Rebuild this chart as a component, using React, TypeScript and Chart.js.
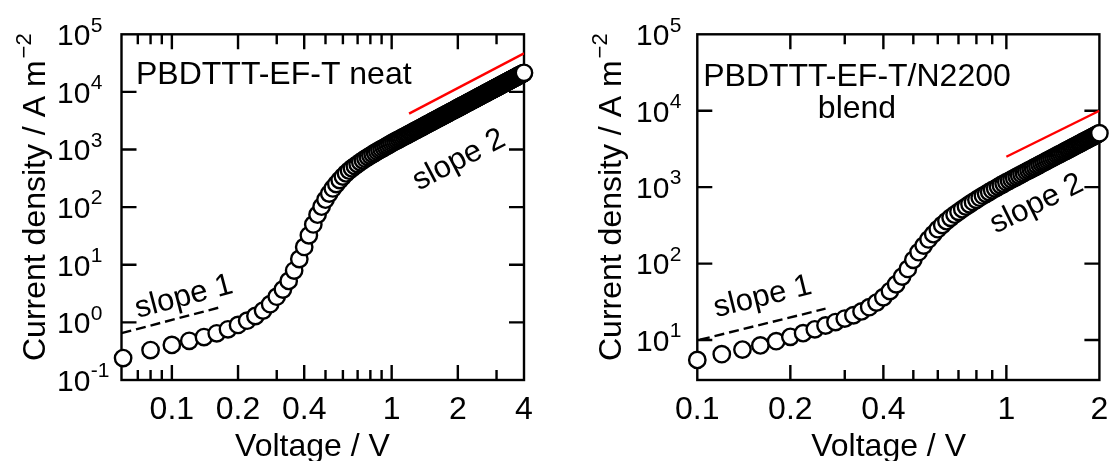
import { useEffect, useRef } from 'react';
import { Chart, registerables } from 'chart.js';

Chart.register(...registerables);

const FONT = '"Liberation Sans", Arial, Helvetica, sans-serif';

// ---------- PBDTTT-EF-T neat ----------
const neatVoltage = [
  0.06, 0.08, 0.10, 0.12, 0.14, 0.16, 0.18, 0.20, 0.22, 0.24, 0.26, 0.28, 0.30, 0.32, 0.34, 0.36,
  0.38, 0.40, 0.42, 0.44, 0.46, 0.48, 0.50, 0.52, 0.54, 0.56, 0.58, 0.60, 0.62, 0.64, 0.66, 0.68,
  0.70, 0.72, 0.74, 0.76, 0.78, 0.80, 0.82, 0.84, 0.86, 0.88, 0.90, 0.92, 0.94, 0.96, 0.98, 1.00,
  1.02, 1.04, 1.06, 1.08, 1.10, 1.12, 1.14, 1.16, 1.18, 1.20, 1.22, 1.24, 1.26, 1.28, 1.30, 1.32,
  1.34, 1.36, 1.38, 1.40, 1.42, 1.44, 1.46, 1.48, 1.50, 1.52, 1.54, 1.56, 1.58, 1.60, 1.62, 1.64,
  1.66, 1.68, 1.70, 1.72, 1.74, 1.76, 1.78, 1.80, 1.82, 1.84, 1.86, 1.88, 1.90, 1.92, 1.94, 1.96,
  1.98, 2.00, 2.02, 2.04, 2.06, 2.08, 2.10, 2.12, 2.14, 2.16, 2.18, 2.20, 2.22, 2.24, 2.26, 2.28,
  2.30, 2.32, 2.34, 2.36, 2.38, 2.40, 2.42, 2.44, 2.46, 2.48, 2.50, 2.52, 2.54, 2.56, 2.58, 2.60,
  2.62, 2.64, 2.66, 2.68, 2.70, 2.72, 2.74, 2.76, 2.78, 2.80, 2.82, 2.84, 2.86, 2.88, 2.90, 2.92,
  2.94, 2.96, 2.98, 3.00, 3.02, 3.04, 3.06, 3.08, 3.10, 3.12, 3.14, 3.16, 3.18, 3.20, 3.22, 3.24,
  3.26, 3.28, 3.30, 3.32, 3.34, 3.36, 3.38, 3.40, 3.42, 3.44, 3.46, 3.48, 3.50, 3.52, 3.54, 3.56,
  3.58, 3.60, 3.62, 3.64, 3.66, 3.68, 3.70, 3.72, 3.74, 3.76, 3.78, 3.80, 3.82, 3.84, 3.86, 3.88,
  3.90, 3.92, 3.94, 3.96, 3.98, 4.00,
];
const neatCurrent = [
  0.240, 0.331, 0.407, 0.479, 0.556, 0.646, 0.759, 0.902, 1.07, 1.29, 1.60, 2.07, 2.79, 3.72, 5.25, 7.94,
  12.6, 20.4, 32.4, 50.1, 74.1, 102, 135, 172, 211, 251, 295, 339, 385, 430, 473, 516,
  560, 604, 649, 693, 740, 785, 832, 879, 927, 975, 1023, 1072, 1122, 1175, 1230, 1288,
  1340, 1395, 1450, 1506, 1563, 1621, 1680, 1741, 1802, 1865, 1929, 1993, 2059, 2126, 2194, 2263,
  2333, 2404, 2477, 2550, 2624, 2700, 2777, 2854, 2933, 3013, 3094, 3176, 3259, 3344, 3429, 3516,
  3603, 3692, 3782, 3873, 3964, 4058, 4152, 4247, 4343, 4441, 4539, 4639, 4739, 4841, 4944, 5048,
  5153, 5259, 5366, 5475, 5584, 5695, 5807, 5919, 6033, 6148, 6264, 6382, 6500, 6619, 6740, 6861,
  6984, 7108, 7232, 7359, 7485, 7614, 7743, 7874, 8005, 8137, 8271, 8406, 8542, 8679, 8817, 8957,
  9097, 9238, 9380, 9525, 9669, 9815, 9962, 10110, 10260, 10410, 10560, 10710, 10870, 11020, 11180, 11340,
  11490, 11650, 11810, 11970, 12140, 12300, 12470, 12630, 12800, 12970, 13140, 13310, 13480, 13650, 13820, 14000,
  14170, 14350, 14530, 14710, 14890, 15070, 15250, 15440, 15620, 15810, 15990, 16180, 16370, 16560, 16750, 16950,
  17140, 17330, 17530, 17730, 17920, 18120, 18330, 18530, 18730, 18930, 19140, 19340, 19550, 19760, 19970, 20180,
  20390, 20600, 20820, 21030, 21250, 21470,
];
const neatSlope1Voltage = [0.059, 0.165];
const neatSlope1Current = [0.65, 1.82];
const neatSlope2Voltage = [1.2, 4.0];
const neatSlope2Current = [4200, 46700];
const neatXMajorTicks = [0.1, 0.2, 0.4, 1, 2, 4];
const neatXTickLabels = ['0.1', '0.2', '0.4', '1', '2', '4'];
const neatXMinorTicks = [0.07, 0.08, 0.09, 0.3, 0.5, 0.6, 0.7, 0.8, 0.9, 3];
const neatYExponents = [-1, 0, 1, 2, 3, 4, 5];
const neatYExponentLabels = ['-1', '0', '1', '2', '3', '4', '5'];

// ---------- PBDTTT-EF-T/N2200 blend ----------
const blendVoltage = [
  0.10, 0.12, 0.14, 0.16, 0.18, 0.20, 0.22, 0.24, 0.26, 0.28, 0.30, 0.32, 0.34, 0.36, 0.38, 0.40,
  0.42, 0.44, 0.46, 0.48, 0.50, 0.52, 0.54, 0.56, 0.58, 0.60, 0.62, 0.64, 0.66, 0.68, 0.70, 0.72,
  0.74, 0.76, 0.78, 0.80, 0.82, 0.84, 0.86, 0.88, 0.90, 0.92, 0.94, 0.96, 0.98, 1.00,
  1.02, 1.04, 1.06, 1.08, 1.10, 1.12, 1.14, 1.16, 1.18, 1.20, 1.22, 1.24, 1.26, 1.28, 1.30, 1.32,
  1.34, 1.36, 1.38, 1.40, 1.42, 1.44, 1.46, 1.48, 1.50, 1.52, 1.54, 1.56, 1.58, 1.60, 1.62, 1.64,
  1.66, 1.68, 1.70, 1.72, 1.74, 1.76, 1.78, 1.80, 1.82, 1.84, 1.86, 1.88, 1.90, 1.92, 1.94, 1.96,
  1.98, 2.00,
];
const blendCurrent = [
  5.50, 6.53, 7.50, 8.51, 9.66, 11.0, 12.3, 13.8, 15.5, 17.2, 19.1, 21.1, 23.7, 26.9, 30.9, 36.3,
  43.7, 53.7, 67.6, 85.1, 112, 141, 172, 207, 243, 282, 320, 359, 398, 437, 476, 516,
  557, 598, 641, 684, 728, 773, 818, 865, 912, 959, 1009, 1059, 1109, 1161,
  1211, 1262, 1314, 1368, 1422, 1478, 1535, 1593, 1652, 1712, 1773, 1836, 1899, 1964, 2030, 2097,
  2166, 2235, 2306, 2377, 2450, 2524, 2600, 2676, 2754, 2832, 2912, 2994, 3076, 3159, 3244, 3330,
  3417, 3505, 3595, 3686, 3778, 3871, 3965, 4060, 4157, 4255, 4354, 4454, 4556, 4659, 4763, 4868,
  4974, 5082,
];
const blendSlope1Voltage = [0.102, 0.26];
const blendSlope1Current = [10.1, 25.7];
const blendSlope2Voltage = [1.0, 2.0];
const blendSlope2Current = [2500, 10000];
const blendXMajorTicks = [0.1, 0.2, 0.4, 1, 2];
const blendXTickLabels = ['0.1', '0.2', '0.4', '1', '2'];
const blendXMinorTicks = [0.3, 0.5, 0.6, 0.7, 0.8, 0.9];
const blendYExponents = [1, 2, 3, 4, 5];
const blendYExponentLabels = ['1', '2', '3', '4', '5'];

const toPoints = (xs: number[], ys: number[]) => xs.map((x, i) => ({ x, y: ys[i] }));

type Panel = {
  xMin: number; xMax: number; yMin: number; yMax: number;
  yWidth: number; padRight: number; padTop: number; xHeight: number;
  voltage: number[]; current: number[];
  s1v: number[]; s1j: number[]; s2v: number[]; s2j: number[];
  xMajor: number[]; xLabels: string[]; xMinor: number[];
  yExp: number[]; yExpLabels: string[];
  yLabelX: number; yTitleX: number; yTitleStartY: number;
  xTitleX: number;
  title: string[]; titleX: number; titleAlign: CanvasTextAlign; titleBaselines: number[];
  slope1: { x: number; y: number; a: number };
  slope2: { x: number; y: number; a: number };
};

const neatPanel: Panel = {
  xMin: 0.059, xMax: 4, yMin: 0.1, yMax: 1e5,
  yWidth: 121.5, padRight: 31, padTop: 34.3, xHeight: 81,
  voltage: neatVoltage, current: neatCurrent,
  s1v: neatSlope1Voltage, s1j: neatSlope1Current, s2v: neatSlope2Voltage, s2j: neatSlope2Current,
  xMajor: neatXMajorTicks, xLabels: neatXTickLabels, xMinor: neatXMinorTicks,
  yExp: neatYExponents, yExpLabels: neatYExponentLabels,
  yLabelX: 57, yTitleX: 45, yTitleStartY: 361,
  xTitleX: 312.5,
  title: ['PBDTTT-EF-T neat'], titleX: 136, titleAlign: 'left', titleBaselines: [84],
  slope1: { x: 184, y: 297, a: -14.7 },
  slope2: { x: 459, y: 160, a: -27.6 },
};

const blendPanel: Panel = {
  xMin: 0.1, xMax: 2, yMin: 3, yMax: 1e5,
  yWidth: 142.3, padRight: 10, padTop: 34.3, xHeight: 81,
  voltage: blendVoltage, current: blendCurrent,
  s1v: blendSlope1Voltage, s1j: blendSlope1Current, s2v: blendSlope2Voltage, s2j: blendSlope2Current,
  xMajor: blendXMajorTicks, xLabels: blendXTickLabels, xMinor: blendXMinorTicks,
  yExp: blendYExponents, yExpLabels: blendYExponentLabels,
  yLabelX: 81, yTitleX: 65.8, yTitleStartY: 361,
  xTitleX: 333.6,
  title: ['PBDTTT-EF-T/N2200', 'blend'], titleX: 302, titleAlign: 'center', titleBaselines: [86, 118],
  slope1: { x: 207.7, y: 297, a: -13.9 },
  slope2: { x: 481.7, y: 204, a: -26.3 },
};

function decorPlugin(p: Panel) {
  return {
    id: 'decor',
    beforeDatasetsDraw(chart: any) {
      const { ctx, chartArea: a, scales } = chart;
      const xs = scales.x;
      const ys = scales.y;
      ctx.save();
      ctx.strokeStyle = '#000';
      ctx.lineWidth = 2.4;
      ctx.lineCap = 'butt';
      const major = 15;
      const minor = 10;
      const tickX = (v: number, len: number) => {
        const px = xs.getPixelForValue(v);
        if (px <= a.left + 1 || px >= a.right - 1) return;
        ctx.beginPath();
        ctx.moveTo(px, a.bottom); ctx.lineTo(px, a.bottom - len);
        ctx.moveTo(px, a.top); ctx.lineTo(px, a.top + len);
        ctx.stroke();
      };
      p.xMajor.forEach((v) => tickX(v, major));
      p.xMinor.forEach((v) => tickX(v, minor));
      p.yExp.forEach((e) => {
        const py = ys.getPixelForValue(Math.pow(10, e));
        if (py <= a.top + 1 || py >= a.bottom - 1) return;
        ctx.beginPath();
        ctx.moveTo(a.left, py); ctx.lineTo(a.left + major, py);
        ctx.moveTo(a.right, py); ctx.lineTo(a.right - major, py);
        ctx.stroke();
      });
      ctx.strokeRect(a.left, a.top, a.right - a.left, a.bottom - a.top);
      ctx.restore();
    },
    afterDraw(chart: any) {
      const { ctx, scales } = chart;
      const xs = scales.x;
      const ys = scales.y;
      ctx.save();
      ctx.fillStyle = '#000';
      // y tick labels 10^n
      ctx.textBaseline = 'alphabetic';
      p.yExp.forEach((e, i) => {
        const py = ys.getPixelForValue(Math.pow(10, e));
        const base = py + 10.8;
        ctx.font = `30px ${FONT}`;
        ctx.textAlign = 'left';
        ctx.fillText('10', p.yLabelX, base);
        const w = ctx.measureText('10').width;
        ctx.font = `21px ${FONT}`;
        ctx.fillText(p.yExpLabels[i], p.yLabelX + w + 0.5, base - 13.5);
      });
      // x tick labels
      ctx.font = `32px ${FONT}`;
      ctx.textAlign = 'center';
      p.xMajor.forEach((v, i) => {
        ctx.fillText(p.xLabels[i], xs.getPixelForValue(v), 418.5);
      });
      // x title
      ctx.font = `32px ${FONT}`;
      ctx.fillText('Voltage / V', p.xTitleX, 455.5);
      // y title
      ctx.save();
      ctx.translate(p.yTitleX, p.yTitleStartY);
      ctx.rotate(-Math.PI / 2);
      ctx.textAlign = 'left';
      ctx.font = `32px ${FONT}`;
      const main = 'Current density / A m';
      ctx.fillText(main, 0, 0);
      const mw = ctx.measureText(main).width;
      ctx.font = `22px ${FONT}`;
      ctx.fillText('\u22122', mw + 2, -14);
      ctx.restore();
      // panel title
      ctx.font = `32px ${FONT}`;
      ctx.textAlign = p.titleAlign;
      p.title.forEach((t, i) => ctx.fillText(t, p.titleX, p.titleBaselines[i]));
      // slope annotations
      const rotText = (t: string, s: { x: number; y: number; a: number }) => {
        ctx.save();
        ctx.translate(s.x, s.y);
        ctx.rotate((s.a * Math.PI) / 180);
        ctx.textAlign = 'center';
        ctx.textBaseline = 'middle';
        ctx.font = `31px ${FONT}`;
        ctx.fillText(t, 0, 0);
        ctx.restore();
      };
      rotText('slope 1', p.slope1);
      rotText('slope 2', p.slope2);
      ctx.restore();
    },
  };
}

function buildConfig(p: Panel): any {
  return {
    type: 'scatter',
    data: {
      datasets: [
        {
          data: toPoints(p.s2v, p.s2j),
          showLine: true,
          borderColor: '#ff0000',
          borderWidth: 2.4,
          pointRadius: 0,
          fill: false,
        },
        {
          data: toPoints(p.s1v, p.s1j),
          showLine: true,
          borderColor: '#000',
          borderWidth: 2.4,
          borderDash: [10, 5],
          pointRadius: 0,
          fill: false,
        },
        {
          data: toPoints(p.voltage, p.current),
          showLine: false,
          pointRadius: 8.2,
          pointBorderWidth: 2.4,
          borderWidth: 2.4,
          pointBackgroundColor: '#ffffff',
          backgroundColor: '#ffffff',
          pointBorderColor: '#000000',
          borderColor: '#000000',
          clip: false,
        },
      ],
    },
    options: {
      animation: false,
      responsive: false,
      events: [],
      layout: { padding: { left: 0, right: p.padRight, top: p.padTop, bottom: 0 } },
      plugins: { legend: { display: false }, tooltip: { enabled: false }, title: { display: false } },
      scales: {
        x: {
          type: 'logarithmic',
          min: p.xMin,
          max: p.xMax,
          grid: { display: false },
          border: { display: false },
          ticks: { display: false },
          afterFit: (s: any) => { s.height = p.xHeight; },
        },
        y: {
          type: 'logarithmic',
          min: p.yMin,
          max: p.yMax,
          grid: { display: false },
          border: { display: false },
          ticks: { display: false },
          afterFit: (s: any) => { s.width = p.yWidth; },
        },
      },
    },
    plugins: [decorPlugin(p)],
  };
}

function PanelChart({ panel, left }: { panel: Panel; left: number }) {
  const ref = useRef<HTMLCanvasElement | null>(null);
  useEffect(() => {
    if (!ref.current) return;
    const chart = new Chart(ref.current, buildConfig(panel));
    return () => chart.destroy();
  }, [panel]);
  return (
    <canvas
      ref={ref}
      width={555}
      height={461}
      style={{ position: 'absolute', left, top: 0, width: 555, height: 461, display: 'block' }}
    />
  );
}

export default function App() {
  return (
    <div style={{ position: 'absolute', left: 0, top: 0, width: 1110, height: 461, background: '#fff', overflow: 'hidden' }}>
      <PanelChart panel={neatPanel} left={0} />
      <PanelChart panel={blendPanel} left={555} />
    </div>
  );
}
